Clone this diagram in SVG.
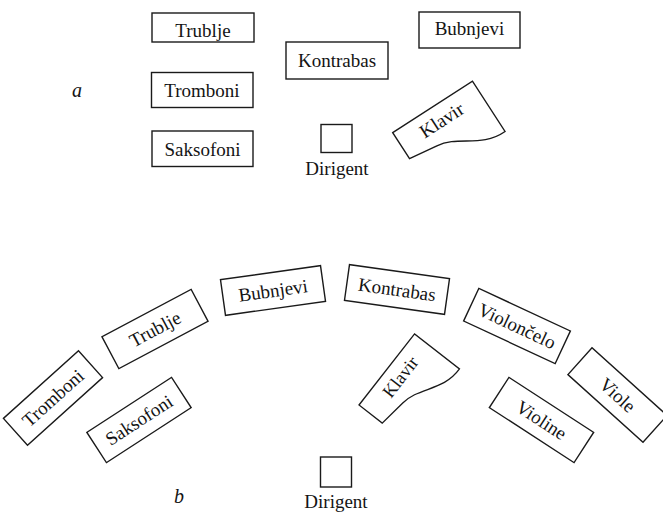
<svg xmlns="http://www.w3.org/2000/svg" width="663" height="512" viewBox="0 0 663 512">
  <style>
    .box { fill: #ffffff; stroke: #1a1a1a; stroke-width: 1.4; }
    .lbl { font-family: "Liberation Serif", "Times New Roman", serif; font-size: 19px; fill: #141414; text-anchor: middle; }
    .it { font-family: "Liberation Serif", "Times New Roman", serif; font-style: italic; font-size: 20px; fill: #141414; }
  </style>
  <defs>
    <rect id="rbox" x="-50.5" y="-18" width="101" height="36" class="box"/>
    <path id="piano" class="box" d="M0,0 H95 V60 C66,61 54,38 30,35 L0,31 Z"/>
  </defs>
  <rect width="663" height="512" fill="#ffffff"/>

  <!-- Part a -->
  <g id="label-a"><text class="it" x="72" y="97">a</text></g>
  <g id="a-trublje">
    <rect class="box" x="152" y="13" width="102" height="29"/>
    <text class="lbl" x="203" y="37">Trublje</text>
  </g>
  <g id="a-tromboni">
    <rect class="box" x="151.5" y="72.5" width="101.5" height="35"/>
    <text class="lbl" x="202" y="96.5">Tromboni</text>
  </g>
  <g id="a-saksofoni">
    <rect class="box" x="152" y="131" width="101" height="35.5"/>
    <text class="lbl" x="202.5" y="155.5">Saksofoni</text>
  </g>
  <g id="a-kontrabas">
    <rect class="box" x="286" y="42" width="102" height="37"/>
    <text class="lbl" x="337" y="66.5">Kontrabas</text>
  </g>
  <g id="a-bubnjevi">
    <rect class="box" x="419" y="12" width="101" height="36"/>
    <text class="lbl" x="469.5" y="34.5">Bubnjevi</text>
  </g>
  <g id="a-klavir" transform="translate(392.7,132.7) rotate(-32.9)">
    <use href="#piano"/>
    <text class="lbl" x="48" y="22.5">Klavir</text>
  </g>
  <g id="a-dirigent">
    <rect class="box" x="321" y="124.5" width="31" height="28"/>
    <text class="lbl" x="337" y="175">Dirigent</text>
  </g>

  <!-- Part b -->
  <g id="label-b"><text class="it" x="174" y="503">b</text></g>
  <g id="b-tromboni" transform="translate(53,398) rotate(-42)">
    <use href="#rbox"/>
    <text class="lbl" x="0" y="6.5">Tromboni</text>
  </g>
  <g id="b-trublje" transform="translate(155,329) rotate(-28)">
    <use href="#rbox"/>
    <text class="lbl" x="0" y="6.5">Trublje</text>
  </g>
  <g id="b-saksofoni" transform="translate(139,420) rotate(-33)">
    <use href="#rbox"/>
    <text class="lbl" x="0" y="6.5">Saksofoni</text>
  </g>
  <g id="b-bubnjevi" transform="translate(273,290.5) rotate(-8)">
    <use href="#rbox"/>
    <text class="lbl" x="0" y="6.5">Bubnjevi</text>
  </g>
  <g id="b-kontrabas" transform="translate(397,289.5) rotate(8)">
    <use href="#rbox"/>
    <text class="lbl" x="0" y="6.5">Kontrabas</text>
  </g>
  <g id="b-klavir" transform="translate(359,405) rotate(-52) scale(0.95)">
    <use href="#piano"/>
    <text class="lbl" x="50" y="22.5">Klavir</text>
  </g>
  <g id="b-violoncelo" transform="translate(517,326) rotate(25)">
    <use href="#rbox"/>
    <text class="lbl" x="0" y="6.5">Violončelo</text>
  </g>
  <g id="b-violine" transform="translate(541.5,420) rotate(33)">
    <use href="#rbox"/>
    <text class="lbl" x="0" y="6.5">Violine</text>
  </g>
  <g id="b-viole" transform="translate(617.5,395) rotate(42)">
    <use href="#rbox"/>
    <text class="lbl" x="0" y="6.5">Viole</text>
  </g>
  <g id="b-dirigent">
    <rect class="box" x="320.5" y="457" width="31" height="30"/>
    <text class="lbl" x="336" y="507.5">Dirigent</text>
  </g>
</svg>
